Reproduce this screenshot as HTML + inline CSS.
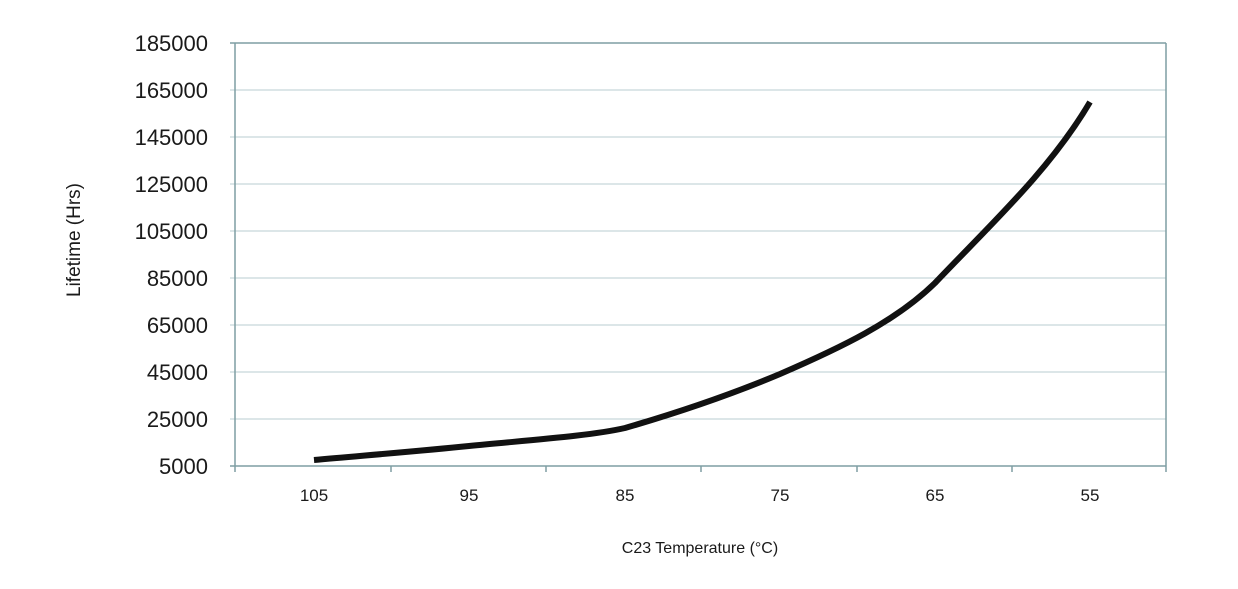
<!DOCTYPE html>
<html><head><style>body{margin:0;background:#fff}</style></head><body>
<svg width="1238" height="584" xmlns="http://www.w3.org/2000/svg" font-family="Liberation Sans, sans-serif">
<g stroke="#b9ccd0" stroke-width="1">
<line x1="230" y1="90" x2="1166" y2="90"/><line x1="230" y1="137" x2="1166" y2="137"/>
<line x1="230" y1="184" x2="1166" y2="184"/><line x1="230" y1="231" x2="1166" y2="231"/>
<line x1="230" y1="278" x2="1166" y2="278"/><line x1="230" y1="325" x2="1166" y2="325"/>
<line x1="230" y1="372" x2="1166" y2="372"/><line x1="230" y1="419" x2="1166" y2="419"/>
</g>
<g stroke="#7f9ea3" stroke-width="1.5" fill="none">
<line x1="230" y1="43" x2="1166" y2="43"/>
<line x1="1166" y1="43" x2="1166" y2="466"/>
<line x1="235" y1="43" x2="235" y2="466"/>
<line x1="230" y1="466" x2="1166" y2="466"/>
<line x1="391" y1="466" x2="391" y2="472"/><line x1="546" y1="466" x2="546" y2="472"/>
<line x1="701" y1="466" x2="701" y2="472"/><line x1="857" y1="466" x2="857" y2="472"/>
<line x1="1012" y1="466" x2="1012" y2="472"/><line x1="1166" y1="466" x2="1166" y2="472"/>
<line x1="235" y1="466" x2="235" y2="472"/>
</g>
<g font-size="22" fill="#1a1a1a" text-anchor="end">
<text x="208" y="51">185000</text><text x="208" y="98">165000</text><text x="208" y="145">145000</text>
<text x="208" y="192">125000</text><text x="208" y="239">105000</text><text x="208" y="286">85000</text>
<text x="208" y="333">65000</text><text x="208" y="380">45000</text><text x="208" y="427">25000</text>
<text x="208" y="474">5000</text>
</g>
<g font-size="17" fill="#1a1a1a" text-anchor="middle">
<text x="314" y="501">105</text><text x="469" y="501">95</text><text x="625" y="501">85</text>
<text x="780" y="501">75</text><text x="935" y="501">65</text><text x="1090" y="501">55</text>
<text x="700" y="553" font-size="16">C23 Temperature (°C)</text>
<text transform="translate(80,240) rotate(-90)" font-size="19">Lifetime (Hrs)</text>
</g>
<path d="M314,460 C370,455 420,451 469,446 C530,440 590,436 625,428 C680,412 730,395 780,374 C840,348 895,322 935,283 C990,225 1050,170 1090,102" stroke="#111" stroke-width="6" fill="none" stroke-linecap="butt"/>
</svg>
</body></html>
